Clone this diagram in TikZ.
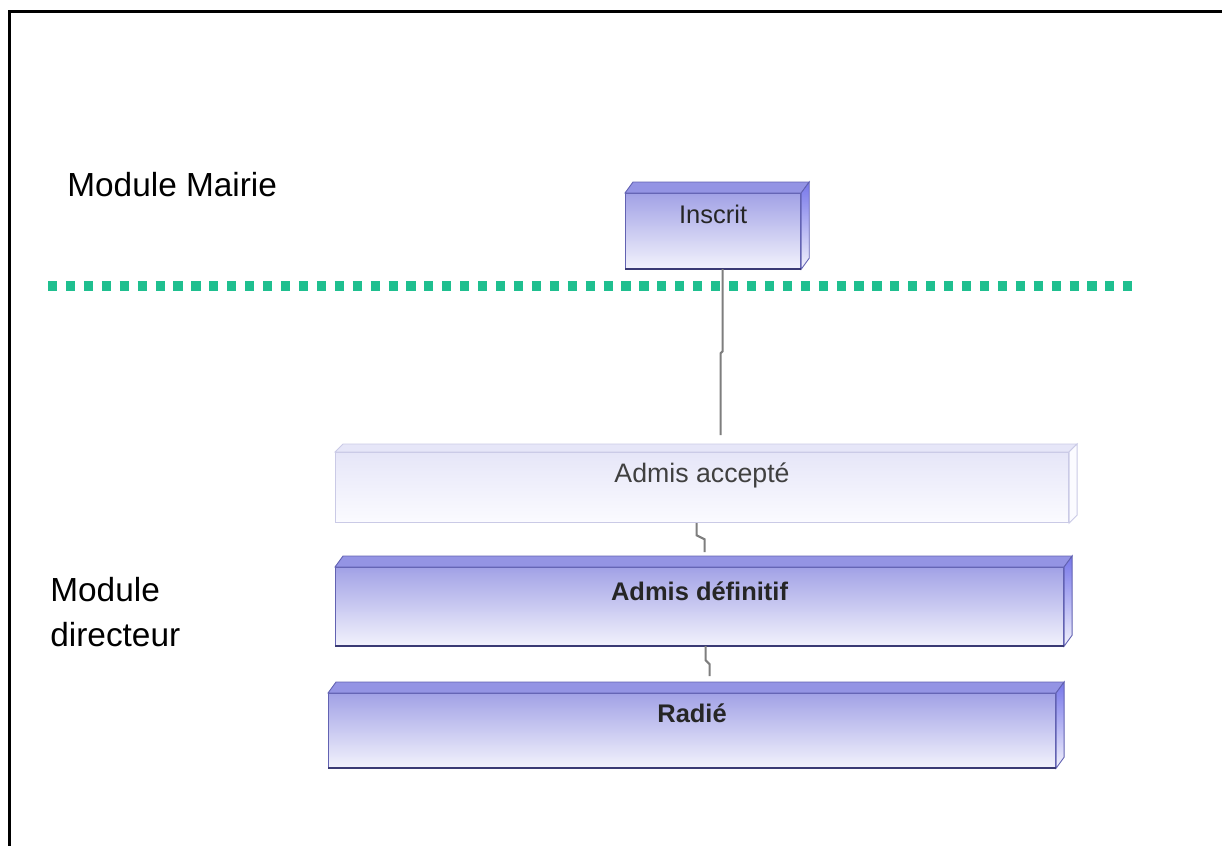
\documentclass[tikz,border=0pt]{standalone}
\usepackage{fontspec}
\setmainfont{Liberation Sans}

\definecolor{boxtop}{HTML}{A2A2E6}
\definecolor{boxbot}{HTML}{F2F2FC}
\definecolor{boxedge}{HTML}{6262B2}
\definecolor{boxdark}{HTML}{3A3A74}
\definecolor{boxface}{HTML}{9494E4}
\definecolor{paletop}{HTML}{E6E6F8}
\definecolor{palebot}{HTML}{FBFBFF}
\definecolor{paleedge}{HTML}{CACAE6}
\definecolor{dotgreen}{HTML}{1FBF8F}
\definecolor{wiregray}{HTML}{7E7E7E}

\begin{document}
\begin{tikzpicture}[x=0.02cm,y=-0.02cm,
  state/.style={draw=boxedge, line width=0.7pt, top color=boxtop, bottom color=boxbot,
    inner sep=0pt, anchor=north west, text=black!85,
    font=\fontsize{14.5}{17}\selectfont},
  palestate/.style={state, draw=paleedge, top color=paletop, bottom color=palebot, text=black!75,
    font=\fontsize{15.2}{17}\selectfont},
  topface/.style={draw=boxedge, line width=0.5pt, fill=boxface},
  sideface/.style={draw=boxedge, line width=0.5pt, top color=boxface!80!blue, bottom color=boxbot},
  wire/.style={draw=wiregray, line width=1.2pt},
  title/.style={font=\fontsize{19}{26}\selectfont, align=left, inner sep=0pt}]

  \useasboundingbox (0,0) rectangle (1222,846);

  % Frame
  \draw[line width=1.8pt] (8,11.5) -- (1222,11.5);
  \draw[line width=1.8pt] (9.5,10.6) -- (9.5,846);

  % Module titles
  \node[title, anchor=west] (mairie) at (67,185) {Module Mairie};
  \node[title, anchor=west] (directeur) at (50,612) {Module\\directeur};

  % Border between the two modules
  \draw[dotgreen, line width=5.2pt, dash pattern=on 5.2pt off 5pt] (48,286) -- (1134,286);

  % States
  \node[state, minimum width=3.5cm, text height=0.6cm, text depth=0.9cm] (inscrit) at (625,193) {Inscrit};
  \node[palestate, minimum width=14.66cm, text height=0.6cm, text depth=0.8cm] (accepte) at (335,452) {Admis accept\'e};
  \node[state, minimum width=14.56cm, text height=0.66cm, text depth=0.9cm, font=\fontsize{14.5}{17}\selectfont\bfseries] (definitif) at (335,567) {Admis d\'efinitif};
  \node[state, minimum width=14.54cm, text height=0.58cm, text depth=0.9cm, font=\fontsize{14.5}{17}\selectfont\bfseries] (radie) at (328,693) {Radi\'e};

  % Depth of the boxes
  \foreach \n in {inscrit,definitif,radie} {
    \draw[topface] (\n.north west) -- ++(8,-11) -- ([shift={(8,-11)}]\n.north east) -- (\n.north east) -- cycle;
    \draw[sideface] (\n.north east) -- ++(8,-11) -- ([shift={(8,-11)}]\n.south east) -- (\n.south east) -- cycle;
    \draw[boxdark, line width=0.9pt] (\n.south west) -- (\n.south east);
  }
  \draw[paleedge, line width=0.5pt, fill=paletop] (accepte.north west) -- ++(8,-8) -- ([shift={(8,-8)}]accepte.north east) -- (accepte.north east) -- cycle;
  \draw[paleedge, line width=0.5pt, fill=palebot] (accepte.north east) -- ++(8,-8) -- ([shift={(8,-8)}]accepte.south east) -- (accepte.south east) -- cycle;

  % Transitions
  \draw[wire] ([shift={(9.5,0)}]inscrit.south) -- ++(0,82) -- ++(-2,2) -- ([shift={(18.5,-17)}]accepte.north);
  \draw[wire] ([shift={(-5.5,0)}]accepte.south) -- ++(0,12) -- ++(8,4) -- ([shift={(5,-15)}]definitif.north);
  \draw[wire] ([shift={(6,0)}]definitif.south) -- ++(0,14) -- ++(4,4) -- ([shift={(17.5,-17)}]radie.north);
\end{tikzpicture}
\end{document}
